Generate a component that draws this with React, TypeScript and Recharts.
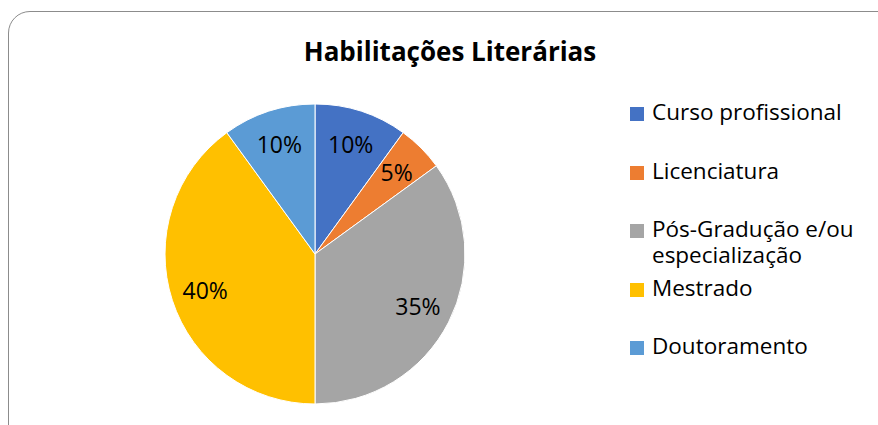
import { PieChart, Pie, Cell, Legend } from 'recharts';

const categories = ['Curso profissional', 'Licenciatura', 'Pós-Gradução e/ou especialização', 'Mestrado', 'Doutoramento'];
const percentages = [10, 5, 35, 40, 10];
const sliceColors = ['#4472C4', '#ED7D31', '#A5A5A5', '#FFC000', '#5B9BD5'];

const data = categories.map((name, i) => ({ name, value: percentages[i] }));

const FONT = '"Open Sans", Calibri, sans-serif';
const RAD = Math.PI / 180;

function renderLabel(props: any) {
  const { cx, cy, midAngle, outerRadius, value } = props;
  const r = outerRadius * 0.77;
  const x = cx + r * Math.cos(-midAngle * RAD);
  const y = cy + r * Math.sin(-midAngle * RAD);
  return (
    <text x={x} y={y} fill="#000" textAnchor="middle" dominantBaseline="central" fontSize={23} fontFamily={FONT}>
      {`${value}%`}
    </text>
  );
}

// legend is drawn in the original series order (recharts would sort it by name)
function LegendContent() {
  return (
    <div style={{ position: 'relative', fontFamily: FONT, fontSize: 22.5, color: '#000' }}>
      {categories.map((name, i) => (
        <div key={`leg-${i}`} style={{ position: 'absolute', left: 0, top: i * 58.5, display: 'flex', alignItems: 'flex-start' }}>
          <span style={{ display: 'inline-block', flex: 'none', width: 14, height: 14, background: sliceColors[i], marginTop: 8, marginRight: 8 }} />
          <span style={{ width: 225, lineHeight: '26px' }}>{name}</span>
        </div>
      ))}
    </div>
  );
}

export default function App() {
  return (
    <div style={{ position: 'absolute', left: 0, top: 0, width: 878, height: 425, overflow: 'hidden', background: '#fff' }}>
      <div
        style={{
          position: 'absolute',
          left: 8,
          top: 11,
          width: 900,
          height: 440,
          border: '1.5px solid #8c8c8c',
          borderRadius: 22,
          boxSizing: 'border-box',
        }}
      />
      <div
        style={{
          position: 'absolute',
          left: 0,
          top: 33,
          width: 900,
          textAlign: 'center',
          fontFamily: FONT,
          fontWeight: 700,
          fontSize: 26,
          color: '#000',
        }}
      >
        Habilitações Literárias
      </div>
      <div style={{ position: 'absolute', left: 0, top: 0 }}>
        <PieChart width={878} height={425}>
          <Pie
            data={data}
            dataKey="value"
            nameKey="name"
            cx={310}
            cy={249}
            outerRadius={150}
            startAngle={90}
            endAngle={-270}
            stroke="#fff"
            strokeWidth={1}
            label={renderLabel}
            labelLine={false}
            isAnimationActive={false}
          >
            {data.map((_, i) => (
              <Cell key={`cell-${i}`} fill={sliceColors[i]} />
            ))}
          </Pie>
          <Legend
            layout="vertical"
            verticalAlign="top"
            align="right"
            content={<LegendContent />}
            wrapperStyle={{ left: 630, top: 99, width: 245, height: 300 }}
          />
        </PieChart>
      </div>
    </div>
  );
}
